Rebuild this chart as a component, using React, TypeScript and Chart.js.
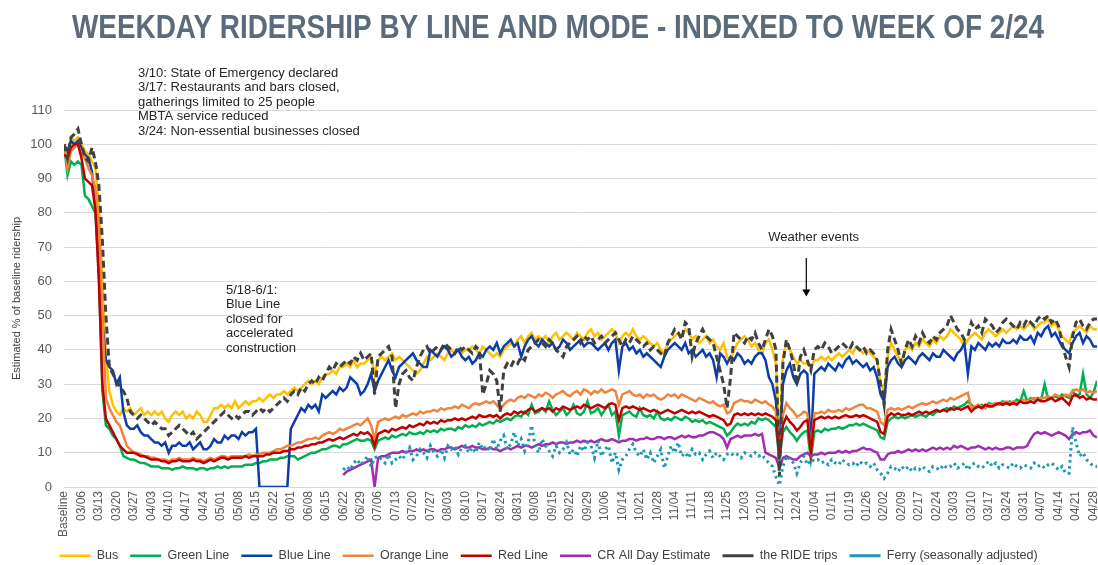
import React, { useEffect, useRef } from "react";
import { Chart, registerables } from "chart.js";

Chart.register(...registerables);

const TITLE = "WEEKDAY RIDERSHIP BY LINE AND MODE - INDEXED TO WEEK OF 2/24";
const Y_TITLE = "Estimated % of baseline ridership";

const tickLabels = [
  "Baseline", "03/06", "03/13", "03/20", "03/27", "04/03", "04/10", "04/17", "04/24", "05/01",
  "05/08", "05/15", "05/22", "06/01", "06/08", "06/15", "06/22", "06/29", "07/06", "07/13",
  "07/20", "07/27", "08/03", "08/10", "08/17", "08/24", "08/31", "09/08", "09/15", "09/22",
  "09/29", "10/06", "10/14", "10/21", "10/28", "11/04", "11/11", "11/18", "11/25", "12/03",
  "12/10", "12/17", "12/24", "01/04", "01/11", "01/19", "01/26", "02/02", "02/09", "02/17",
  "02/24", "03/03", "03/10", "03/17", "03/24", "03/31", "04/07", "04/14", "04/21", "04/28",
];

const seriesNames = [
  "Bus", "Green Line", "Blue Line", "Orange Line", "Red Line",
  "CR All Day Estimate", "the RIDE trips", "Ferry (seasonally adjusted)",
];

// weekday values, index 0 = Baseline, one row per labelled week
const bus = [
  100,
  97, 102, 101, 102, 100,
  98, 97, 95, 93, 82,
  60, 38, 28, 24, 22,
  21, 23, 22, 23, 21,
  22, 23, 21, 22, 21,
  22, 21, 22, 20, 19,
  21, 22, 21, 22, 20,
  21, 20, 22, 21, 19,
  19, 21, 23, 23, 24,
  23, 24, 23, 25, 23,
  24, 25, 24, 25, 25,
  26, 25, 26, 27, 26,
  27, 27, 28, 27, 28,
  29, 28, 29, 30, 31,
  30, 31, 30, 32, 33,
  33, 34, 33, 35, 35,
  36, 35, 37, 35, 36,
  36, 37, 38, 33, 37,
  38, 37, 38, 39, 37,
  38, 37, 36, 35, 34,
  33, 34, 36, 38, 37,
  38, 39, 38, 37, 39,
  40, 39, 40, 39, 40,
  40, 41, 40, 39, 41,
  40, 39, 38, 39, 38,
  40, 41, 42, 41, 43,
  44, 42, 44, 45, 43,
  44, 43, 44, 42, 44,
  45, 43, 44, 45, 44,
  43, 45, 44, 43, 45,
  46, 44, 45, 43, 44,
  45, 46, 45, 42, 44,
  45, 44, 46, 44, 43,
  44, 43, 42, 41, 42,
  40, 39, 42, 43, 44,
  45, 44, 46, 45, 43,
  44, 42, 43, 44, 42,
  43, 41, 40, 42, 38,
  37, 40, 42, 43, 44,
  43, 41, 42, 40, 39,
  42, 43, 40, 36, 12,
  38, 42, 40, 38, 36,
  37, 36, 36, 35, 37,
  37, 38, 37, 38, 37,
  38, 39, 38, 39, 40,
  39, 41, 40, 39, 40,
  39, 38, 37, 30, 28,
  38, 42, 40, 38, 36,
  40, 41, 40, 42, 41,
  43, 42, 41, 43, 42,
  44, 43, 44, 46, 45,
  44, 43, 41, 43, 44,
  45, 44, 43, 45, 46,
  45, 44, 45, 46, 45,
  46, 47, 46, 47, 46,
  47, 48, 46, 47, 48,
  48, 49, 47, 48, 46,
  44, 43, 42, 45, 46,
  47, 46, 45, 47, 46,
  46,
];

const greenLine = [
  100,
  91, 95, 94, 95, 94,
  85, 84, 82, 80, 62,
  28, 18, 17, 15, 14,
  12, 9, 8.5, 8, 8,
  7.5, 7, 7, 6.5, 6,
  6, 6, 5.5, 5.5, 5.5,
  5, 5.5, 5.5, 6, 5.5,
  5.5, 5.5, 5, 5.5, 5.5,
  5, 5.5, 5.5, 6, 5.5,
  6, 5.5, 6, 6, 6,
  6, 6.5, 6.5, 6.5, 7,
  7, 7.5, 7.5, 8, 8,
  8, 8.5, 8.5, 9, 9,
  9, 8, 8.5, 9, 9.5,
  10, 10, 10.5, 11, 11,
  11.5, 12, 12, 11.5, 12.5,
  12.5, 13, 13.5, 14, 13.5,
  13.5, 14, 13.5, 11, 13.5,
  14, 14.5, 14, 15, 14.5,
  15, 15.5, 15, 16, 15.5,
  15.5, 16, 15.5, 16.5, 16,
  16.5, 16, 17, 16.5, 17,
  17, 16.5, 17.5, 17, 18,
  17.5, 18, 17.5, 18.5, 18,
  18.5, 19, 18.5, 19.5, 19,
  19.5, 20, 19.5, 20.5, 21,
  20.5, 22, 21, 24, 21.5,
  22, 23, 22, 25, 22.5,
  21, 22, 23, 21, 22,
  24, 21.5, 21, 22, 25,
  21.5, 22, 23, 21, 22.5,
  24, 21, 22, 15, 21,
  21.5, 22, 21, 20.5, 23,
  21, 20.5, 21, 20, 22,
  20, 19.5, 20, 19.5, 20.5,
  20, 19.5, 20.5, 20, 19,
  19.5, 19, 19.5, 18.5, 19,
  18.5, 18, 17.5, 17, 15,
  16, 17.5, 18.5, 18, 18.5,
  18, 19, 18.5, 20, 19.5,
  20, 19.5, 18.5, 17.5, 8,
  16, 17.5, 16, 15, 13.5,
  15, 16, 16.5, 8, 16,
  16.5, 16, 17, 16.5, 17,
  17, 17.5, 17, 17.5, 18,
  18, 18.5, 18, 18.5, 18,
  17.5, 17, 16.5, 14.5, 14,
  19, 20, 20.5, 20, 20.5,
  20, 20.5, 21, 20.5, 21,
  21, 20.5, 21.5, 21, 22,
  22, 22.5, 23, 22.5, 23.5,
  23, 23.5, 24, 25, 24,
  23, 23.5, 24, 23, 24.5,
  24, 24.5, 24, 25, 24.5,
  25, 24.5, 25.5, 25, 28,
  25, 26, 25.5, 26, 25.5,
  30, 25.5, 26, 26.5, 26,
  27, 26.5, 26, 28, 26.5,
  27, 33, 27, 26, 27.5,
  31,
];

const blueLine = [
  100,
  98, 101, 100, 101, 99,
  97, 96, 92, 82, 66,
  48, 37, 35, 34, 30,
  32, 22, 18, 17, 17,
  18, 16, 15, 15, 14,
  13, 13, 12, 13, 10,
  12, 12, 13, 12, 12,
  13, 11, 12, 13, 11,
  11, 12, 14, 13, 13,
  15, 14, 15, 15, 14,
  16, 15, 16, 16, 17,
  0, 0, 0, 0, 0,
  0, 0, 0, 0, 17,
  19, 21, 23, 22, 24,
  23, 24, 22, 27, 26,
  27, 28, 27, 29, 28,
  29, 32, 31, 30, 27,
  28, 30, 33, 28, 31,
  33, 35, 37, 34, 32,
  35, 36, 37, 38, 39,
  37, 36, 35, 35, 40,
  39, 38, 40, 41, 40,
  38, 39, 40, 38, 37,
  38, 36, 37, 39, 38,
  40, 41, 40, 42, 39,
  41, 42, 43, 41, 42,
  38, 41, 43, 44, 42,
  41, 43, 42, 41, 42,
  40, 41, 43, 42, 40,
  41, 42, 43, 41, 42,
  42, 41, 40, 41, 42,
  40, 42, 43, 34, 41,
  42, 40, 41, 39, 40,
  38, 39, 38, 37, 36,
  35, 38, 40, 41, 42,
  41, 40, 42, 39, 40,
  38, 39, 40, 38, 39,
  37, 32, 39, 38, 36,
  38, 37, 39, 38, 36,
  37, 36, 38, 39, 39,
  37, 32, 30, 25, 9,
  30, 34, 36, 32, 30,
  33, 34, 33, 11, 33,
  34, 35, 34, 36, 35,
  34, 36, 35, 37, 38,
  36, 37, 36, 35, 36,
  34, 35, 32, 27, 25,
  35, 37, 38, 36, 35,
  37, 38, 37, 36, 38,
  39, 38, 37, 39, 38,
  38, 40, 39, 38, 37,
  39, 40, 42, 33, 41,
  40, 42, 41, 40, 42,
  41, 42, 41, 43, 42,
  42, 43, 42, 44, 43,
  43, 44, 42, 45, 44,
  46, 47, 44, 45, 43,
  41, 40, 39, 42, 44,
  45, 42, 44, 43, 41,
  41,
];

const orangeLine = [
  100,
  93, 98, 99, 100, 97,
  96, 93, 91, 87, 75,
  50, 26, 23, 21, 19,
  18, 15, 12, 11, 10,
  10, 9.5, 9, 9, 8.5,
  8.5, 8, 8, 8, 7.5,
  8, 8, 8.5, 8, 8,
  8, 8.5, 8, 8, 7.5,
  8, 8.5, 8, 8.5, 9,
  9, 8.5, 9, 9, 9,
  9, 9, 9.5, 9, 9.5,
  9.5, 10, 10, 10, 10.5,
  11, 11, 11.5, 12, 12,
  12.5, 13, 13, 13.5, 14,
  14, 14.5, 14, 15, 15.5,
  16, 15.5, 16, 17, 16.5,
  17, 17.5, 18, 18.5, 18,
  19, 20, 18, 14, 19,
  19.5, 20, 19.5, 20, 20.5,
  20, 21, 20.5, 21, 21.5,
  21, 22, 21.5, 22, 22,
  22.5, 22, 23, 22.5, 23,
  23, 23.5, 23, 24, 23.5,
  23, 24, 24.5, 24, 24.5,
  25, 24.5, 25, 24, 22.5,
  24, 25, 25.5, 25, 26,
  26.5, 26, 27, 26.5, 26,
  27, 26.5, 27.5, 27, 26,
  27, 27.5, 28, 27, 26.5,
  27.5, 28, 27, 28.5, 28,
  27, 28, 27.5, 28.5, 27.5,
  28, 28.5, 28, 24, 27,
  27.5, 28, 27, 26.5, 27,
  26, 27, 26.5, 27, 26,
  25.5, 26, 27, 26.5, 27,
  26, 27, 26.5, 26, 25.5,
  25, 26, 25.5, 25, 24.5,
  25, 24, 23.5, 24, 21.5,
  22, 24.5, 25, 25.5, 25,
  25, 24.5, 25.5, 25, 24.5,
  25, 24, 23.5, 22, 9.5,
  21, 24.5, 23, 22, 20.5,
  21, 22, 21.5, 10, 21.5,
  21.5, 22, 21.5, 22.5, 22,
  22, 22.5, 22, 23, 22.5,
  23, 23.5, 24, 24, 23,
  23, 22.5, 22, 19, 18,
  22.5, 23, 22.5, 23, 22.5,
  23, 23.5, 23, 23.5, 24,
  24.5, 24, 24.5, 25, 24.5,
  25, 25.5, 25, 26, 25.5,
  26, 26.5, 27, 27.5, 23,
  23.5, 24, 23.5, 23, 24,
  24, 24.5, 24, 24.5, 25,
  24.5, 25, 24.5, 25, 25.5,
  25, 25.5, 26, 25.5, 26,
  26, 26.5, 26, 27, 26.5,
  26, 27, 26.5, 28, 28.5,
  28, 28.5, 27.5, 28, 27.5,
  28,
];

const redLine = [
  97,
  96, 99, 100, 100, 96,
  90, 89, 88, 81, 60,
  30, 20, 18, 16, 14,
  12, 11, 10, 10, 10,
  9.5, 9, 9, 8.5, 8,
  8, 8, 7.5, 7.5, 7,
  7.5, 7.5, 8, 7.5, 7.5,
  7.5, 8, 7.5, 7.5, 7,
  7.5, 8, 7.5, 8, 8.5,
  8.5, 8, 8.5, 8.5, 8.5,
  8.5, 9, 8.5, 9, 9,
  9, 9, 9.5, 9.5, 10,
  10, 10, 10.5, 10.5, 11,
  11, 11.5, 11.5, 12, 12,
  12.5, 12.5, 13, 13, 13.5,
  14, 13.5, 14, 14.5, 14,
  14.5, 15, 15.5, 15, 16,
  15.5, 16, 15, 12, 15.5,
  16, 16.5, 16, 17, 16.5,
  17, 17.5, 17, 18, 17.5,
  18, 18.5, 18, 19, 18.5,
  19, 18.5, 19.5, 19, 19.5,
  19.5, 20, 19.5, 20, 19.5,
  20, 20.5, 20, 21, 20.5,
  20.5, 21, 20.5, 21, 20,
  21, 21.5, 21, 22, 21.5,
  22, 21.5, 22.5, 23, 22,
  22.5, 23, 22.5, 23, 22,
  23, 22.5, 23.5, 23, 22.5,
  23, 23.5, 23, 24, 23.5,
  23, 23.5, 24, 23.5, 23,
  24, 24.5, 24, 19.5, 23,
  23.5, 23, 23.5, 23, 22.5,
  23, 22.5, 22, 22.5, 22,
  21.5, 22, 22.5, 22, 21.5,
  22, 22.5, 22, 21.5, 22,
  21.5, 22, 21.5, 21, 20.5,
  21, 20.5, 20, 19.5, 18,
  18.5, 21, 21.5, 21, 21.5,
  21, 21.5, 21, 21.5, 21,
  21.5, 21, 20.5, 19.5, 8.5,
  18, 20.5, 19, 18, 16.5,
  17.5, 19, 19.5, 10, 19.5,
  20, 20.5, 20, 20.5, 20,
  20.5, 20, 20.5, 21, 20.5,
  20.5, 21, 20.5, 21, 20.5,
  20, 19.5, 19, 16, 15.5,
  20.5, 21.5, 21, 21.5, 21,
  21, 21.5, 21, 21.5, 22,
  21.5, 22, 21.5, 22, 22.5,
  22, 22.5, 22, 23, 22.5,
  23, 22.5, 23, 23.5, 22,
  23, 23.5, 23, 24, 23.5,
  23.5, 24, 24.5, 24, 24.5,
  24, 24.5, 24, 25, 24.5,
  24.5, 25, 24.5, 25.5, 25,
  25, 25.5, 26, 25, 25.5,
  26, 25, 24, 26.5, 27,
  26, 26.5, 25.5, 26, 25.5,
  25.5,
];

// CR and Ferry start on 06/22 (index 80)
const CR_FERRY_START = 80;

const crAllDay = [
  3.5,
  4.5, 5, 5.5, 6, 6.5,
  7, 7.5, 8, 0, 8.5,
  9, 9, 9.5, 10, 10,
  10, 10.5, 10, 10.5, 10.5,
  11, 10.5, 11, 10.5, 11,
  11, 10.5, 11, 11, 11.5,
  11.5, 11, 11.5, 12, 11.5,
  11.5, 12, 11.5, 11.5, 11,
  11, 11.5, 11, 11, 10.5,
  11, 11.5, 11, 11.5, 12,
  11.5, 12, 12, 11.5, 12,
  12.5, 12, 12.5, 12.5, 13,
  12.5, 13, 13, 12.5, 13,
  13, 13.5, 13, 13.5, 13,
  13.5, 13, 13.5, 14, 13.5,
  13.5, 14, 13.5, 13, 13.5,
  13.5, 14, 14, 13.5, 14,
  14, 14.5, 14, 14, 14.5,
  14.5, 14, 14.5, 14.5, 14,
  14.5, 15, 14.5, 15, 14.5,
  14.5, 15, 15, 15.5, 16,
  16, 15.5, 15, 14, 11.5,
  14, 14.5, 15, 14.5, 15,
  15, 15, 15.5, 15, 15.5,
  10, 9.5, 9, 8.5, 5.5,
  8.5, 9, 8.5, 8, 8,
  9, 9.5, 10, 9, 9.5,
  9.5, 10, 9.5, 10, 10,
  10, 10.5, 10, 10.5, 10,
  10.5, 10.5, 11, 11.5, 11,
  11, 10.5, 10, 8, 8,
  9.5, 10, 10, 10.5, 10,
  10.5, 11, 10.5, 11, 10.5,
  11, 10.5, 11, 11.5, 11,
  11.5, 11, 11.5, 11, 12,
  11.5, 12, 11.5, 11, 11.5,
  11.5, 12, 11.5, 11, 11.5,
  11, 11.5, 11, 11, 11.5,
  11.5, 11, 11.5, 11.5, 11.5,
  12, 14, 15.5, 16, 15.5,
  16, 15.5, 15, 15.5, 16,
  15.5, 15, 14, 15.5, 16,
  15.5, 16, 16, 16.5, 15,
  14.5,
];

const rideTrips = [
  100,
  96, 102, 103, 104.5, 100,
  96, 95, 99, 95, 88,
  72, 50, 35, 33, 31,
  29, 28, 26, 22, 21,
  20, 21, 20, 19, 18,
  19, 18, 17, 17, 15,
  16, 17, 18, 17, 16,
  15, 16, 14, 15, 16,
  17, 18, 19, 20, 21,
  22, 21, 20, 21, 20,
  21, 22, 22, 21, 22,
  23, 22, 23, 22, 23,
  24, 25, 26, 25, 27,
  28, 27, 29, 28, 30,
  31, 30, 32, 31, 33,
  35, 34, 36, 35, 36,
  37, 36, 38, 37, 39,
  37, 38, 39, 27, 38,
  39, 40, 41, 38, 23,
  30, 33, 34, 32, 31,
  35, 38, 40, 41, 39,
  40, 41, 40, 42, 41,
  40, 39, 41, 40, 41,
  40, 39, 41, 40, 27,
  30, 34, 33, 31, 22,
  34, 36, 35, 37, 36,
  38, 37, 40, 41, 42,
  43, 42, 41, 43, 42,
  40, 39, 38, 41, 42,
  43, 44, 42, 44, 43,
  44, 42, 43, 44, 42,
  43, 44, 45, 43, 41,
  43, 42, 44, 43, 42,
  41, 42, 40, 41, 40,
  39, 38, 42, 44, 46,
  45, 43, 48, 47, 38,
  42, 44, 46, 44, 43,
  42, 38, 34, 30, 23,
  32, 45, 44, 43, 42,
  44, 43, 45, 42, 40,
  43, 46, 44, 40, 3,
  36, 43, 40, 36, 30,
  38, 40, 37, 34, 40,
  41, 40, 42, 41, 39,
  40, 41, 42, 41, 40,
  42, 41, 40, 41, 39,
  40, 39, 37, 30, 24,
  40, 46, 43, 40, 36,
  40, 43, 41, 44, 42,
  45, 43, 42, 44, 43,
  45, 46, 47, 50, 48,
  46, 45, 43, 44, 48,
  46, 47, 45, 49, 48,
  47, 45, 46, 48, 49,
  48, 47, 46, 48, 47,
  49, 48, 47, 49, 50,
  49, 50, 48, 49, 47,
  42, 38, 35, 44, 48,
  49, 47, 46, 48, 49,
  49,
];

const ferry = [
  5,
  6, 5, 7, 8, 6.5,
  7.5, 9, 6, 8.5, 9,
  8, 7, 9.5, 7, 8,
  9, 8, 10, 11.5, 8,
  9, 11, 10, 8.5, 12,
  10, 9, 11, 8.5, 12,
  11, 12, 9.5, 11.5, 12,
  10, 11.5, 10, 13, 11,
  12, 10.5, 14, 11, 13.5,
  15, 11, 12.5, 16, 12,
  14, 10.5, 13, 18, 12,
  10, 14, 12, 10.5, 9,
  12, 10, 11, 13, 9.5,
  11, 9, 12, 10.5, 13,
  12, 8.5, 13.5, 9, 11,
  12, 7, 10, 5, 8,
  9, 11, 12.5, 10, 9,
  11, 8, 10, 7, 9,
  11, 5.5, 9, 12, 10,
  13, 9, 10, 8.5, 11,
  9.5, 10, 8, 9.5, 10.5,
  8.5, 10, 9, 8, 9.5,
  10, 9, 9.5, 8.5, 10,
  9.5, 9, 10, 9, 9.5,
  8, 7, 6, 3, 0.5,
  6, 9, 8, 7, 4,
  7, 9, 6.5, 8, 7.5,
  8, 7, 7.5, 6.5, 8,
  7, 6.5, 8, 7, 6.5,
  7, 6, 7.5, 6.5, 7,
  6, 7, 5, 4, 2.5,
  4, 6, 5.5, 4.5, 6,
  5, 6, 4.5, 5.5, 5,
  6, 5, 4.5, 6, 5.5,
  5, 6.5, 5.5, 6, 7,
  5.5, 6, 7, 5, 6.5,
  7, 6, 5.5, 6.5, 7.5,
  6, 7, 5.5, 6.5, 6,
  5.5, 7, 6, 5.5, 6.5,
  6, 5.5, 7, 6, 6.5,
  5.5, 6.5, 7, 6, 5,
  6, 4, 4, 17.5, 13,
  9, 10, 8, 7, 6,
  6,
];

const NOTE_EMERGENCY = [
  "3/10: State of Emergency declared",
  "3/17: Restaurants and bars closed,",
  "gatherings limited to 25 people",
  "MBTA service reduced",
  "3/24: Non-essential businesses closed",
];
const NOTE_BLUE = ["5/18-6/1:", "Blue Line", "closed for", "accelerated", "construction"];
const NOTE_WEATHER = ["Weather events"];

// anchors in data units (x = weekday index, y = % of baseline)
const notes = [
  { lines: NOTE_EMERGENCY, x: 21.2, y: 120.8 },
  { lines: NOTE_BLUE, x: 46.4, y: 57.5 },
  { lines: NOTE_WEATHER, x: 201.8, y: 72.7 },
];
const weatherArrow = { x: 212.7, yFrom: 66.8, yTo: 55.6 };

const TITLE_WIDTH = 972;

const notesPlugin = {
  id: "notesPlugin",
  afterDraw(chart: any) {
    const { ctx } = chart;
    const xs = chart.scales.x;
    const ys = chart.scales.y;
    ctx.save();
    // title, condensed to the reference width
    ctx.fillStyle = "#5b6b7b";
    ctx.font = 'bold 34px "Liberation Sans", Arial, sans-serif';
    ctx.textAlign = "center";
    ctx.textBaseline = "alphabetic";
    const w = ctx.measureText(TITLE).width;
    ctx.save();
    ctx.translate(558, 38);
    ctx.scale(Math.min(1, TITLE_WIDTH / w), 1);
    ctx.fillText(TITLE, 0, 0);
    ctx.restore();
    // notes
    ctx.fillStyle = "#262626";
    ctx.font = '13px "Liberation Sans", Arial, sans-serif';
    ctx.textAlign = "left";
    ctx.textBaseline = "middle";
    notes.forEach((n) => {
      const px = xs.getPixelForValue(n.x);
      const py = ys.getPixelForValue(n.y);
      n.lines.forEach((line, k) => ctx.fillText(line, px, py + k * 14.5));
    });
    // arrow
    const ax = xs.getPixelForValue(weatherArrow.x);
    const ay1 = ys.getPixelForValue(weatherArrow.yFrom);
    const ay2 = ys.getPixelForValue(weatherArrow.yTo);
    ctx.strokeStyle = "#000";
    ctx.lineWidth = 1.2;
    ctx.beginPath();
    ctx.moveTo(ax, ay1);
    ctx.lineTo(ax, ay2 - 6);
    ctx.stroke();
    ctx.fillStyle = "#000";
    ctx.beginPath();
    ctx.moveTo(ax - 4, ay2 - 7);
    ctx.lineTo(ax + 4, ay2 - 7);
    ctx.lineTo(ax, ay2);
    ctx.closePath();
    ctx.fill();
    ctx.restore();
  },
};

function toPoints(values: (number | null)[], start = 0) {
  return values.map((v, k) => ({ x: start + k, y: v }));
}

export default function App() {
  const canvasRef = useRef<HTMLCanvasElement>(null);

  useEffect(() => {
    document.body.style.margin = "0";
    const canvas = canvasRef.current;
    if (!canvas) return;

    const line = (i: number, data: any[], color: string, extra: any = {}) => ({
      label: seriesNames[i],
      data,
      borderColor: color,
      backgroundColor: color,
      borderWidth: 2.5,
      pointRadius: 0,
      pointHoverRadius: 0,
      tension: 0,
      fill: false,
      order: 8 - i,
      ...extra,
    });

    const chart = new Chart(canvas, {
      type: "line",
      data: {
        datasets: [
          line(0, toPoints(bus), "#FFC000"),
          line(1, toPoints(greenLine), "#00B050"),
          line(2, toPoints(blueLine), "#0B3EA8"),
          line(3, toPoints(orangeLine), "#F0843C"),
          line(4, toPoints(redLine), "#C00000"),
          line(5, toPoints(crAllDay, CR_FERRY_START), "#A12DB3"),
          line(6, toPoints(rideTrips), "#404040", { borderDash: [7, 4], borderWidth: 3 }),
          line(7, toPoints(ferry, CR_FERRY_START), "#1A98B4", { borderDash: [2.5, 3.5], borderWidth: 3 }),
        ],
      },
      options: {
        responsive: false,
        animation: false,
        events: [],
        layout: { padding: { top: 110, right: 1, left: 0, bottom: -7 } },
        scales: {
          x: {
            type: "linear",
            min: 0,
            max: 296,
            grid: { display: false, drawTicks: false },
            border: { display: false },
            ticks: {
              stepSize: 5,
              autoSkip: false,
              includeBounds: false,
              maxRotation: 90,
              minRotation: 90,
              padding: 4,
              color: "#595959",
              font: { size: 12, family: '"Liberation Sans", Arial, sans-serif' },
              callback: (v: any) => {
                const k = Number(v) / 5;
                return Number.isInteger(k) && tickLabels[k] !== undefined ? tickLabels[k] : "";
              },
            },
            afterFit: (s: any) => {
              s.height = 50.5;
              s.paddingLeft = 0;
              s.paddingRight = 0;
            },
          },
          y: {
            min: 0,
            max: 110,
            grid: { color: "#d9d9d9", lineWidth: 1, drawTicks: false },
            border: { display: false },
            ticks: {
              stepSize: 10,
              padding: 12,
              color: "#595959",
              font: { size: 13, family: '"Liberation Sans", Arial, sans-serif' },
            },
            title: {
              display: true,
              text: Y_TITLE,
              color: "#404040",
              padding: { top: 10, bottom: 0 },
              font: { size: 11, family: '"Liberation Sans", Arial, sans-serif' },
            },
            afterFit: (s: any) => {
              s.width = 64;
            },
          },
        },
        plugins: {
          title: { display: false },
          tooltip: { enabled: false },
          legend: {
            position: "bottom",
            labels: {
              usePointStyle: true,
              pointStyle: "line",
              pointStyleWidth: 31,
              boxHeight: 12,
              padding: 12,
              color: "#404040",
              font: { size: 12.5, family: '"Liberation Sans", Arial, sans-serif' },
              sort: (a: any, b: any) => a.datasetIndex - b.datasetIndex,
            },
          },
        },
      },
      plugins: [notesPlugin],
    } as any);

    return () => chart.destroy();
  }, []);

  return (
    <div style={{ width: 1098, height: 565, position: "relative" }}>
      <canvas ref={canvasRef} width={1098} height={565} />
    </div>
  );
}
